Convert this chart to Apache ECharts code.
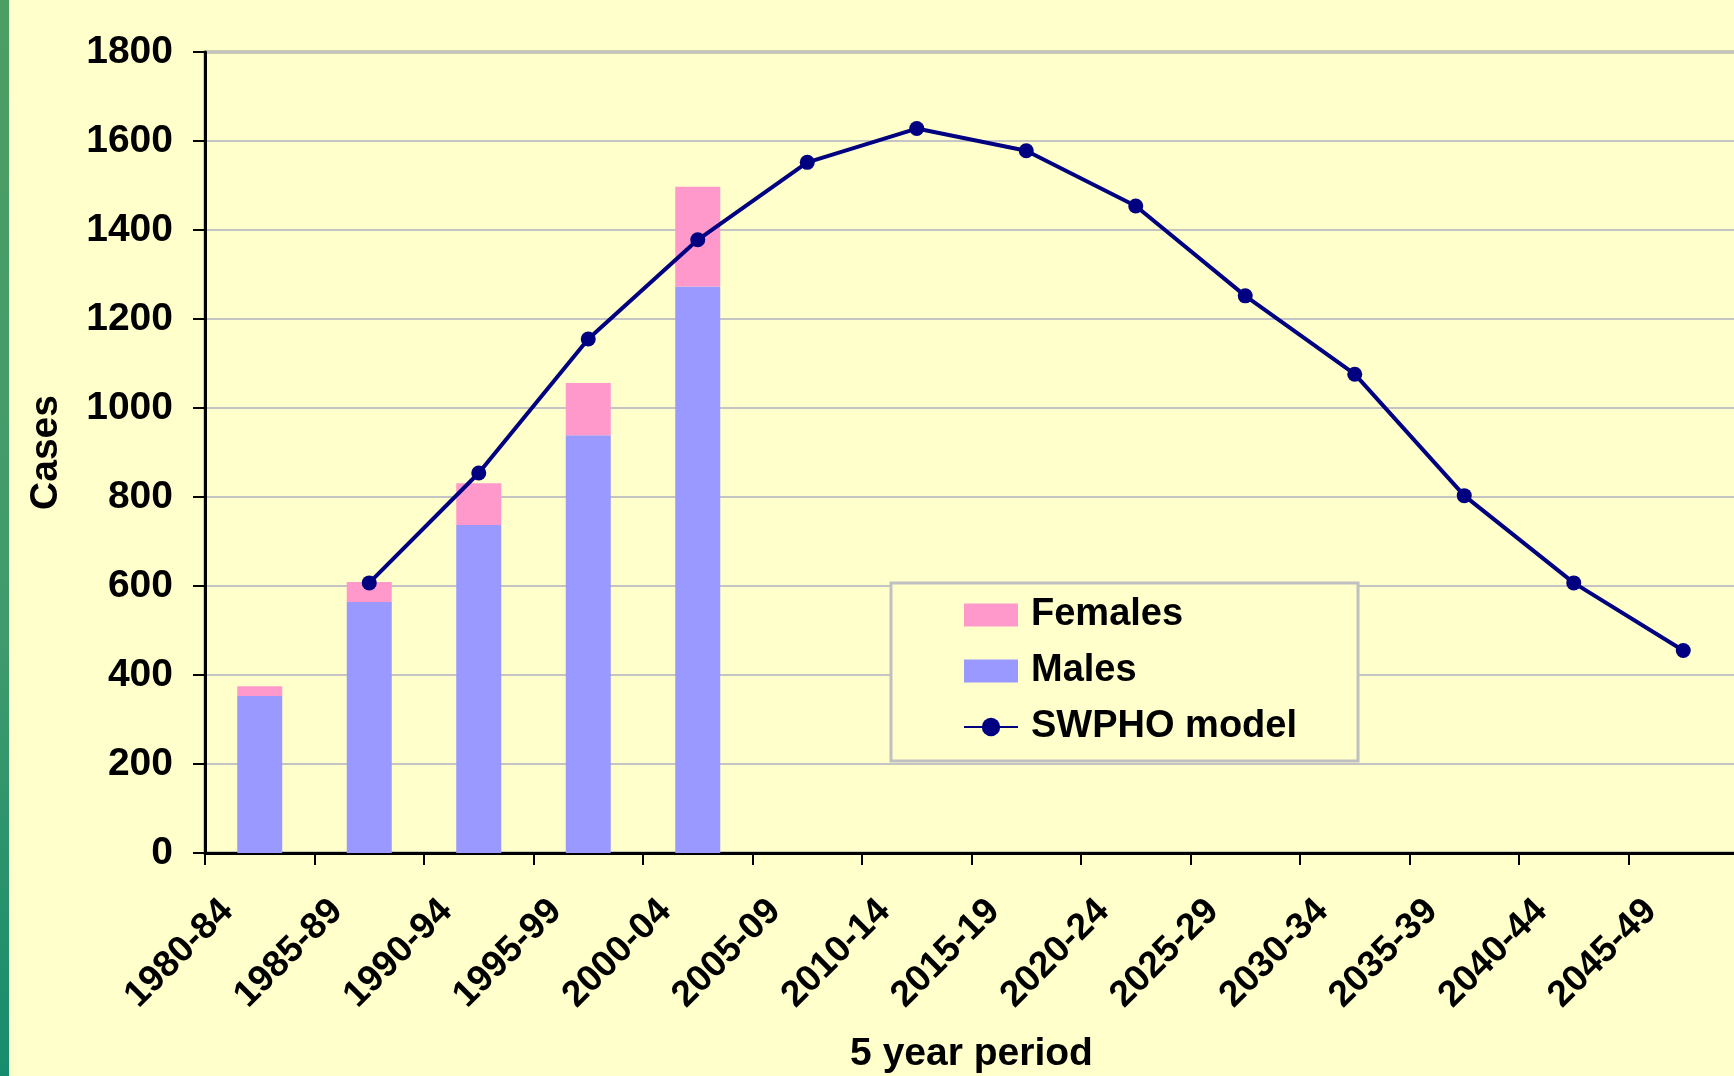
<!DOCTYPE html>
<html>
<head>
<meta charset="utf-8">
<script src="https://cdn.jsdelivr.net/npm/echarts@6/dist/echarts.min.js"></script>
<style>
  html, body { margin: 0; padding: 0; background: #FFFFCC; }
  #main { width: 1734px; height: 1076px; }
</style>
</head>
<body>
<div id="main"></div>
<script>
// 5 year periods on the x axis
var periods = ['1980-84', '1985-89', '1990-94', '1995-99', '2000-04', '2005-09', '2010-14',
  '2015-19', '2020-24', '2025-29', '2030-34', '2035-39', '2040-44', '2045-49'];
// observed cases (stacked bars)
var males = [353, 564, 737, 939, 1273];
var females = [22, 45, 94, 117, 224];
// model projection, no value for the first period
var swphoModel = [null, 607, 854, 1155, 1378, 1552, 1628, 1578, 1454, 1252, 1076, 803, 607, 455];
var yTicks = [0, 200, 400, 600, 800, 1000, 1200, 1400, 1600, 1800];

var font = 'Liberation Sans, Arial, sans-serif';
var chart = echarts.init(document.getElementById('main'));

chart.setOption({
  backgroundColor: '#FFFFCC',
  textStyle: { fontFamily: font },
  // green strip at the left edge
  graphic: [{
    type: 'rect',
    left: 0, top: 0,
    shape: { width: 9, height: 1076 },
    style: {
      fill: new echarts.graphic.LinearGradient(0, 0, 0, 1, [
        { offset: 0, color: '#4d9e63' },
        { offset: 0.6, color: '#3f9a6c' },
        { offset: 1, color: '#178c6c' }
      ])
    },
    silent: true
  }],
  grid: {
    left: 205, top: 52, right: -4, bottom: 223,
    outerBoundsMode: 'none',
    show: true, borderColor: '#999999', borderWidth: 3, backgroundColor: 'transparent'
  },
  legend: {
    orient: 'vertical',
    left: 891, top: 583,
    data: [
      { name: 'Females', icon: 'rect' },
      { name: 'Males', icon: 'rect' },
      { name: 'SWPHO model' }
    ],
    backgroundColor: '#FFFFCC',
    borderColor: '#c0c0c0',
    borderWidth: 3,
    borderRadius: 0,
    padding: [13, 61, 15, 72],
    itemWidth: 54,
    itemHeight: 23,
    itemGap: 18,
    textStyle: { fontSize: 38, fontWeight: 'bold', color: '#000', fontFamily: font, padding: [0, 0, 0, 8] }
  },
  xAxis: {
    type: 'category',
    data: periods,
    boundaryGap: true,
    name: '5 year period',
    nameLocation: 'middle',
    nameGap: 182,
    nameTextStyle: { fontSize: 39, fontWeight: 'bold', color: '#000', fontFamily: font },
    axisLine: { lineStyle: { color: '#000', width: 3 } },
    axisTick: { show: true, length: 12, lineStyle: { color: '#000', width: 2 } },
    axisLabel: {
      interval: 0, rotate: 45, margin: 20,
      fontSize: 37, fontWeight: 'bold', color: '#000', fontFamily: font,
      padding: [0, 46, 0, 0]
    },
    splitLine: { show: false }
  },
  yAxis: {
    type: 'value',
    min: yTicks[0], max: yTicks[yTicks.length - 1], interval: 200,
    name: 'Cases',
    nameLocation: 'middle',
    nameGap: 139,
    nameRotate: 90,
    nameTextStyle: { fontSize: 39, fontWeight: 'bold', color: '#000', fontFamily: font },
    axisLine: { show: true, lineStyle: { color: '#000', width: 3 } },
    axisTick: { show: true, length: 12, lineStyle: { color: '#000', width: 2 } },
    axisLabel: {
      margin: 32, fontSize: 39, fontWeight: 'bold', color: '#000', fontFamily: font,
      formatter: function (v) { return String(v); }
    },
    splitLine: { lineStyle: { color: '#c4c4c4', width: 2 } }
  },
  series: [
    {
      name: 'Males', type: 'bar', stack: 'cases',
      data: males, barWidth: 45,
      itemStyle: { color: '#9999FF' }
    },
    {
      name: 'Females', type: 'bar', stack: 'cases',
      data: females, barWidth: 45,
      itemStyle: { color: '#FF99CC' }
    },
    {
      name: 'SWPHO model', type: 'line',
      data: swphoModel,
      symbol: 'circle', symbolSize: 15,
      itemStyle: { color: '#000080' },
      lineStyle: { color: '#000080', width: 4 },
      z: 5
    }
  ]
});
</script>
</body>
</html>
